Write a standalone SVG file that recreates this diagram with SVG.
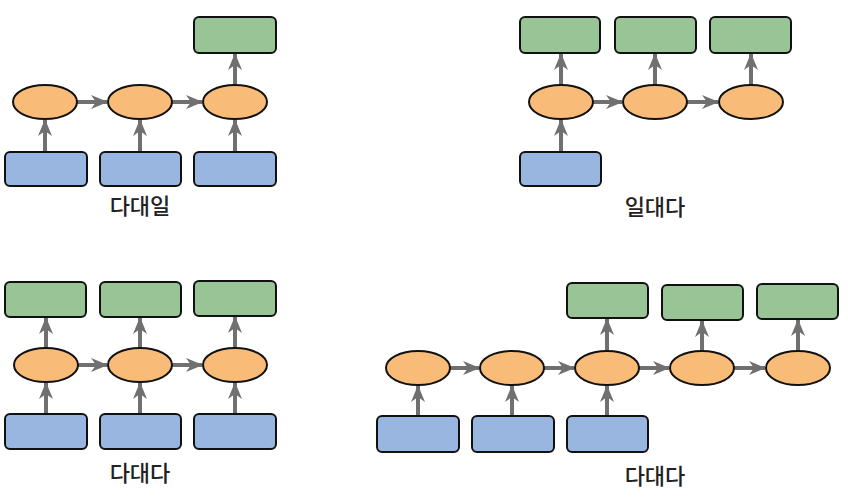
<svg xmlns="http://www.w3.org/2000/svg" width="848" height="498" viewBox="0 0 848 498">
<defs>
<marker id="ah" markerUnits="userSpaceOnUse" markerWidth="18" markerHeight="16" viewBox="0 0 18 16" refX="16" refY="8" orient="auto">
<path d="M0,1 L17,8 L0,15 L5,8 Z" fill="#707070"/>
</marker>
<style>
.in{fill:#98B6DF;stroke:#111;stroke-width:2}
.out{fill:#98C496;stroke:#111;stroke-width:2}
.h{fill:#F8BC78;stroke:#111;stroke-width:2}
.c{stroke:#707070;stroke-width:4;fill:none;marker-end:url(#ah)}
.t{font-family:"Noto Sans CJK KR","Noto Sans",sans-serif;font-size:22px;font-weight:500;fill:#222;text-anchor:middle}
</style>
</defs>
<rect width="848" height="498" fill="#fff"/>
<g id="connectors">
<!-- top-left -->
<line class="c" x1="77" y1="102" x2="107" y2="102"/>
<line class="c" x1="172" y1="102" x2="202" y2="102"/>
<line class="c" x1="45" y1="152" x2="45" y2="120"/>
<line class="c" x1="140" y1="152" x2="140" y2="120"/>
<line class="c" x1="235" y1="152" x2="235" y2="120"/>
<line class="c" x1="235" y1="85" x2="235" y2="54"/>
<!-- top-right -->
<line class="c" x1="593" y1="102" x2="622" y2="102"/>
<line class="c" x1="687" y1="102" x2="718" y2="102"/>
<line class="c" x1="561" y1="152" x2="561" y2="120"/>
<line class="c" x1="561" y1="85" x2="561" y2="54"/>
<line class="c" x1="655" y1="85" x2="655" y2="54"/>
<line class="c" x1="751" y1="85" x2="751" y2="54"/>
<!-- bottom-left -->
<line class="c" x1="78" y1="365" x2="107" y2="365"/>
<line class="c" x1="172" y1="365" x2="202" y2="365"/>
<line class="c" x1="46" y1="414" x2="46" y2="383"/>
<line class="c" x1="140" y1="414" x2="140" y2="383"/>
<line class="c" x1="235" y1="414" x2="235" y2="383"/>
<line class="c" x1="46" y1="348" x2="46" y2="318"/>
<line class="c" x1="140" y1="348" x2="140" y2="318"/>
<line class="c" x1="235" y1="348" x2="235" y2="317"/>
<!-- bottom-right -->
<line class="c" x1="450" y1="368" x2="479" y2="368"/>
<line class="c" x1="544" y1="368" x2="574" y2="368"/>
<line class="c" x1="639" y1="368" x2="669" y2="368"/>
<line class="c" x1="734" y1="368" x2="765" y2="368"/>
<line class="c" x1="418" y1="416" x2="418" y2="386"/>
<line class="c" x1="512" y1="416" x2="512" y2="386"/>
<line class="c" x1="607" y1="416" x2="607" y2="386"/>
<line class="c" x1="607" y1="350" x2="607" y2="319"/>
<line class="c" x1="702" y1="350" x2="702" y2="321"/>
<line class="c" x1="798" y1="350" x2="798" y2="320"/>
</g>
<!-- top-left: 다대일 -->
<g id="tl-in1"><rect class="in" x="5" y="152" width="82" height="34" rx="5"/></g>
<g id="tl-in2"><rect class="in" x="100" y="152" width="81" height="34" rx="5"/></g>
<g id="tl-in3"><rect class="in" x="194" y="152" width="82" height="34" rx="5"/></g>
<g id="tl-h1"><ellipse class="h" cx="45" cy="102" rx="32" ry="17"/></g>
<g id="tl-h2"><ellipse class="h" cx="140" cy="102" rx="32" ry="17"/></g>
<g id="tl-h3"><ellipse class="h" cx="235" cy="102" rx="32" ry="17"/></g>
<g id="tl-out3"><rect class="out" x="194" y="17" width="82" height="36" rx="5"/></g>
<text class="t" x="140" y="214">다대일</text>
<!-- top-right: 일대다 -->
<g id="tr-in1"><rect class="in" x="520" y="152" width="81" height="34" rx="5"/></g>
<g id="tr-h1"><ellipse class="h" cx="561" cy="102" rx="32" ry="17"/></g>
<g id="tr-h2"><ellipse class="h" cx="655" cy="102" rx="32" ry="17"/></g>
<g id="tr-h3"><ellipse class="h" cx="751" cy="102" rx="32" ry="17"/></g>
<g id="tr-out1"><rect class="out" x="520" y="17" width="80" height="36" rx="5"/></g>
<g id="tr-out2"><rect class="out" x="615" y="17" width="81" height="36" rx="5"/></g>
<g id="tr-out3"><rect class="out" x="710" y="17" width="81" height="36" rx="5"/></g>
<text class="t" x="655" y="215">일대다</text>
<!-- bottom-left: 다대다 -->
<g id="bl-in1"><rect class="in" x="5" y="414" width="82" height="35" rx="5"/></g>
<g id="bl-in2"><rect class="in" x="100" y="414" width="81" height="35" rx="5"/></g>
<g id="bl-in3"><rect class="in" x="194" y="414" width="82" height="35" rx="5"/></g>
<g id="bl-h1"><ellipse class="h" cx="46" cy="365" rx="32" ry="17"/></g>
<g id="bl-h2"><ellipse class="h" cx="140" cy="365" rx="32" ry="17"/></g>
<g id="bl-h3"><ellipse class="h" cx="235" cy="365" rx="32" ry="17"/></g>
<g id="bl-out1"><rect class="out" x="5" y="282" width="81" height="35" rx="5"/></g>
<g id="bl-out2"><rect class="out" x="100" y="282" width="81" height="35" rx="5"/></g>
<g id="bl-out3"><rect class="out" x="194" y="281" width="82" height="35" rx="5"/></g>
<text class="t" x="140" y="481">다대다</text>
<!-- bottom-right: 다대다 -->
<g id="br-in1"><rect class="in" x="377" y="416" width="82" height="36" rx="5"/></g>
<g id="br-in2"><rect class="in" x="472" y="416" width="82" height="36" rx="5"/></g>
<g id="br-in3"><rect class="in" x="567" y="416" width="81" height="36" rx="5"/></g>
<g id="br-h1"><ellipse class="h" cx="418" cy="368" rx="32" ry="17"/></g>
<g id="br-h2"><ellipse class="h" cx="512" cy="368" rx="32" ry="17"/></g>
<g id="br-h3"><ellipse class="h" cx="607" cy="368" rx="32" ry="17"/></g>
<g id="br-h4"><ellipse class="h" cx="702" cy="368" rx="32" ry="17"/></g>
<g id="br-h5"><ellipse class="h" cx="798" cy="368" rx="32" ry="17"/></g>
<g id="br-out1"><rect class="out" x="567" y="283" width="81" height="35" rx="5"/></g>
<g id="br-out2"><rect class="out" x="662" y="285" width="81" height="35" rx="5"/></g>
<g id="br-out3"><rect class="out" x="757" y="284" width="81" height="35" rx="5"/></g>
<text class="t" x="655" y="484">다대다</text>
</svg>
